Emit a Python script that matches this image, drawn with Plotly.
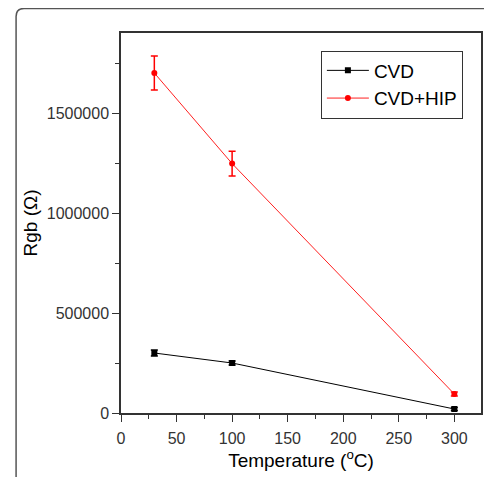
import plotly.graph_objects as go

temps = [30, 100, 300]
cvd = [300000, 250000, 20000]
cvd_err = [15000, 10000, 8000]
hip = [1700000, 1247000, 95000]
hip_err = [85000, 62000, 10000]

fig = go.Figure()
fig.add_trace(go.Scatter(
    x=temps, y=cvd, name="CVD", mode="lines+markers",
    line=dict(color="black", width=1),
    marker=dict(symbol="square", size=6, color="black"),
    error_y=dict(type="data", array=cvd_err, color="black", thickness=1.5, width=3.5),
))
fig.add_trace(go.Scatter(
    x=temps, y=hip, name="CVD+HIP", mode="lines+markers",
    line=dict(color="#ff2020", width=1),
    marker=dict(symbol="circle", size=6, color="red"),
    error_y=dict(type="data", array=hip_err, color="red", thickness=1.5, width=3.5),
))

# page body has an 8px margin, so figure coords = screen coords - 8
OFF = 8
W, H = 484, 469
L, T = 121 - OFF, 33 - OFF
R = W - (483 - OFF)
B = H - (412.7 - OFF)
pw = W - L - R
ph = H - T - B

def px(x):
    return (x - OFF - L) / pw

def py(y):
    return (H - B - (y - OFF)) / ph

r = 8
x0, y0 = 15.5, 8.5
path = (f"M {px(x0)},{py(H + 30)} L {px(x0)},{py(y0 + r)} "
        f"Q {px(x0)},{py(y0)} {px(x0 + r)},{py(y0)} L {px(W + 30)},{py(y0)}")
fig.add_shape(type="path", path=path, xref="paper", yref="paper",
              line=dict(color="#555555", width=1.5), layer="below")

axis_common = dict(
    showline=True, linecolor="#333333", linewidth=1.5, mirror=True,
    ticks="outside", ticklen=7, tickwidth=1, tickcolor="#333333",
    showgrid=False, zeroline=False,
    tickfont=dict(family="Arial, Liberation Sans", size=16, color="#333333"),
)

fig.update_xaxes(
    range=[0, 324], tickvals=[0, 50, 100, 150, 200, 250, 300],
    minor=dict(ticks="outside", ticklen=4, dtick=25, tick0=0, tickcolor="#333333"),
    ticklabelstandoff=3,
    title=dict(text="Temperature (<sup>o</sup>C)", font=dict(family="Arial, Liberation Sans", size=19, color="black"), standoff=4),
    **axis_common,
)
fig.update_yaxes(
    range=[0, 1900000], tickvals=[0, 500000, 1000000, 1500000],
    ticktext=["0", "500000", "1000000", "1500000"],
    minor=dict(ticks="outside", ticklen=4, dtick=250000, tick0=0, tickcolor="#333333"),
    title=dict(text="Rgb (Ω)", font=dict(family="Arial, Liberation Sans", size=19, color="black"), standoff=4),
    **axis_common,
)

fig.update_layout(
    width=W, height=H,
    margin=dict(l=L, r=R, t=T, b=B),
    paper_bgcolor="white", plot_bgcolor="white",
    showlegend=True,
    legend=dict(
        x=px(322), y=py(50.5), xanchor="left", yanchor="top",
        bordercolor="#333333", borderwidth=1, bgcolor="white",
        font=dict(family="Arial, Liberation Sans", size=19, color="black"),
        tracegroupgap=0, itemwidth=42,
    ),
)

fig.write_html("out.html")
